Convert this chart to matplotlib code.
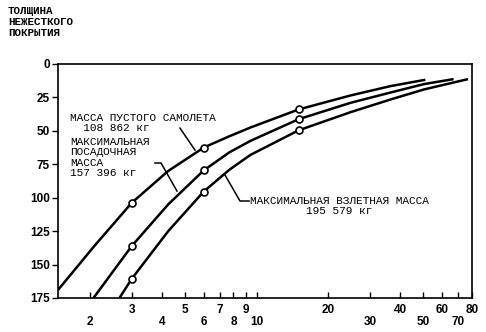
import matplotlib
matplotlib.use('Agg')
import matplotlib.pyplot as plt
from matplotlib.lines import Line2D

# cover thickness vs. (log) x, three aircraft weights
empty_x = [1.47, 2.09, 3, 4.26, 6, 7.7, 9.42, 15, 24.8, 36.5, 51]
empty_y = [169, 136, 103.7, 80, 62.5, 54, 47.5, 34, 23.5, 16.5, 11.8]
landing_x = [2.07, 3, 4.26, 6, 7.7, 9.42, 15, 24.8, 36.5, 50.4, 67]
landing_y = [175, 136, 105, 79.6, 66, 57.5, 41.3, 29, 21.3, 15, 11.3]
takeoff_x = [2.66, 3, 4.26, 6, 7.7, 9.42, 15, 24.8, 36.5, 50.4, 77]
takeoff_y = [175, 160.5, 125, 95.4, 79, 68, 49.6, 36, 26.5, 19, 11.3]
marker_x = [3, 6, 15]

upper_ticks = [3, 5, 7, 9, 20, 40, 60, 80]
lower_ticks = [2, 4, 6, 8, 10, 30, 50, 70]
y_ticks = [0, 25, 50, 75, 100, 125, 150, 175]

title = 'ТОЛЩИНА\nНЕЖЕСТКОГО\nПОКРЫТИЯ'
lbl_empty = 'МАССА ПУСТОГО САМОЛЕТА\n  108 862 кг'
lbl_landing = 'МАКСИМАЛЬНАЯ\nПОСАДОЧНАЯ\nМАССА\n157 396 кг'
lbl_takeoff = 'МАКСИМАЛЬНАЯ ВЗЛЕТНАЯ МАССА\n195 579 кг'

mono = 'Liberation Mono'
sans = 'Liberation Sans'

fig = plt.figure(figsize=(4.86, 3.32), dpi=100)
ax = fig.add_axes([58 / 486, 1 - 298 / 332, 414 / 486, 234 / 332])

for xs, ys in [(empty_x, empty_y), (landing_x, landing_y), (takeoff_x, takeoff_y)]:
    ax.plot(xs, ys, color='black', lw=1.8, solid_capstyle='butt',
            solid_joinstyle='round')
    idx = [i for i, v in enumerate(xs) if v in marker_x]
    ax.plot([xs[i] for i in idx], [ys[i] for i in idx], 'o', ms=5,
            mfc='white', mec='black', mew=1.2, zorder=3)

ax.set_xscale('log')
ax.set_xlim(1.47, 80)
ax.set_ylim(175, 0)

ax.set_xticks(upper_ticks)
ax.set_xticklabels([str(v) for v in upper_ticks])
ax.set_xticks(lower_ticks, minor=True)
ax.set_xticklabels([str(v) for v in lower_ticks], minor=True)
ax.tick_params(axis='x', which='major', direction='in', length=4, width=1, pad=4)
ax.tick_params(axis='x', which='minor', direction='in', length=4, width=1, pad=13)
ax.set_yticks(y_ticks)
ax.tick_params(axis='y', direction='out', length=4, width=1, pad=2)
for lab in ax.get_xticklabels(which='both') + ax.get_yticklabels():
    lab.set_fontfamily(sans)
    lab.set_fontweight('bold')
    lab.set_fontsize(8.5)

for s in ax.spines.values():
    s.set_linewidth(1.2)

fig.text(8 / 486, 1 - 6 / 332, title, family=mono, weight='bold', fontsize=7.8,
         va='top', ha='left', linespacing=1.1)

tkw = dict(transform=ax.transAxes, family=mono, fontsize=8, linespacing=1.05)
ax.text(0.029, 0.791, lbl_empty, ha='left', va='top', **tkw)
ax.text(0.029, 0.688, lbl_landing, ha='left', va='top', **tkw)
ax.text(0.679, 0.436, lbl_takeoff, ha='center', va='top', multialignment='center', **tkw)

leaders = [
    ([0.2947, 0.3309], [0.726, 0.632]),
    ([0.2343, 0.2488, 0.2874], [0.577, 0.577, 0.457]),
    ([0.4614, 0.4396, 0.4034], [0.4145, 0.4145, 0.5256]),
]
for lx, ly in leaders:
    ax.add_line(Line2D(lx, ly, transform=ax.transAxes, color='black', lw=1.1))

fig.savefig('out.png', dpi=100)
